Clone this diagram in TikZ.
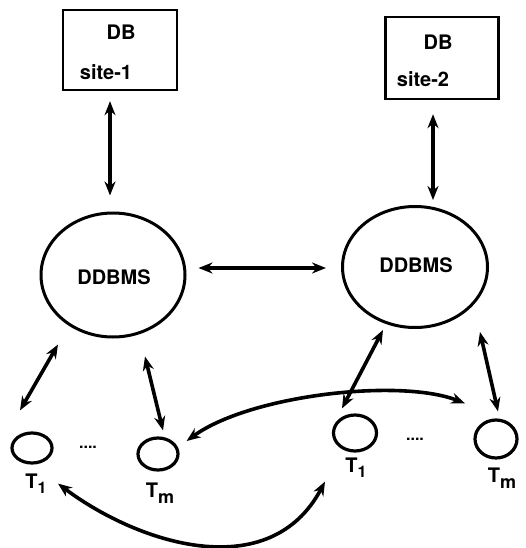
\documentclass[tikz,border=0pt]{standalone}
\usepackage{fontspec}
\setmainfont{TeX Gyre Heros}
\usetikzlibrary{arrows.meta,shapes.geometric,calc}
\begin{document}
\begin{tikzpicture}[x=1pt,y=-1pt,
  box/.style={draw,line width=2.4pt,minimum width=114pt,minimum height=80pt,inner sep=0pt},
  blob/.style={draw,ellipse,line width=3pt,inner sep=0pt},
  tnode/.style={draw,ellipse,line width=3.2pt,inner sep=0pt},
  lbl/.style={font=\fontsize{20}{22}\selectfont\bfseries,inner sep=0pt},
  tlbl/.style={font=\fontsize{20}{22}\selectfont\bfseries,inner sep=0pt},
  link/.style={line width=3.6pt,{Stealth[length=14pt,width=11pt]}-{Stealth[length=14pt,width=11pt]}},
  dotsl/.style={font=\fontsize{16}{16}\selectfont\bfseries,inner sep=0pt}]
\useasboundingbox (0,0) rectangle (525,548);
% DB boxes
\node[box] (b1) at (120,50) {};
\node[box,minimum width=113pt,minimum height=82pt] (b2) at (442,58) {};
\node[lbl] (db1) at (121,32) {DB};
\node[lbl] (s1) at (106,72) {site-1};
\node[lbl] (db2) at (438,42) {DB};
\node[lbl] (s2) at (423,79) {site-2};
% DDBMS
\node[blob,minimum width=144pt,minimum height=124pt] (d1) at (113,275) {};
\node[blob,minimum width=145pt,minimum height=121pt] (d2) at (415,267) {};
\node[lbl] (dt1) at (114,277) {DDBMS};
\node[lbl] (dt2) at (416,265) {DDBMS};
% transactions
\node[tnode,minimum width=40pt,minimum height=30pt] (t1) at (32,448) {};
\node[tnode,minimum width=40pt,minimum height=32pt] (u1) at (158,454) {};
\node[tnode,minimum width=43pt,minimum height=36pt] (t2) at (355,433) {};
\node[tnode,minimum width=42pt,minimum height=38pt] (u2) at (496,439) {};
\node[tlbl] (lt1) at (36,484) {T\raisebox{-0.45ex}{\fontsize{16}{16}\selectfont 1}};
\node[tlbl] (lu1) at (160,493) {T\raisebox{-0.6ex}{\fontsize{18}{18}\selectfont m}};
\node[tlbl] (lt2) at (356,468) {T\raisebox{-0.45ex}{\fontsize{16}{16}\selectfont 1}};
\node[tlbl] (lu2) at (502,478) {T\raisebox{-0.6ex}{\fontsize{18}{18}\selectfont m}};
\node[dotsl] (dl) at (88,447) {....};
\node[dotsl] (dr) at (415,439) {....};
% connectors
\draw[link] ($(b1.south)+(-10,10)$) -- ($(d1.north)+(-3,-16)$);
\draw[link] ($(b2.south)+(-9,14)$) -- ($(d2.north)+(18,-5)$);
\draw[link] ($(d1.east)+(12,-7)$) -- ($(d2.west)+(-15,1)$);
\draw[link] ($(d1.south)+(-55,6)$) -- ($(t1.north)+(-12,-21)$);
\draw[link] ($(d1.south)+(32,18)$) -- ($(u1.north)+(5,-6)$);
\draw[link] ($(d2.south)+(-32,1)$) -- ($(t2.north)+(-13,-5)$);
\draw[link] ($(d2.south)+(65,3)$) -- ($(u2.north)+(2,-7)$);
\draw[link] ($(u1.east)+(7,-13)$) .. controls (250,395) and (400,378) .. ($(u2.north)+(-31,-15)$);
\draw[link] ($(t1.south)+(26,19)$) .. controls (140,545) and (270,585) .. ($(t2.south)+(-30,29)$);
\end{tikzpicture}
\end{document}
